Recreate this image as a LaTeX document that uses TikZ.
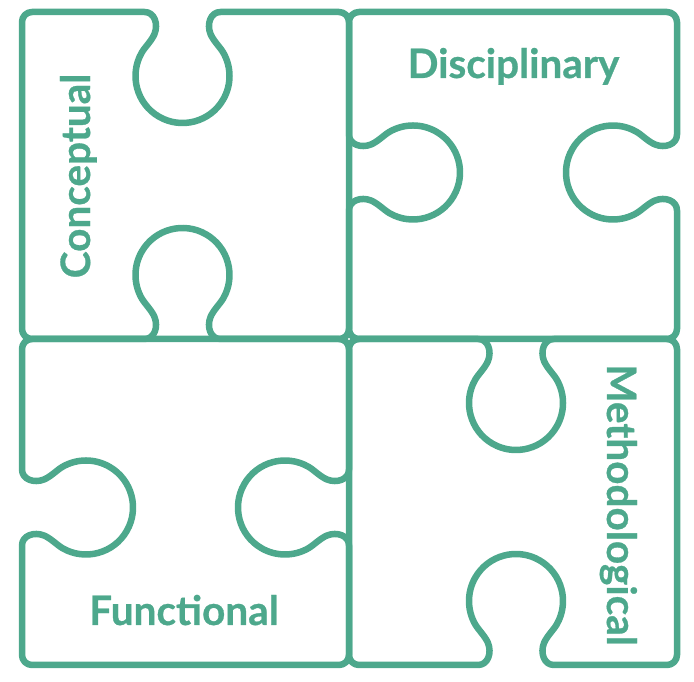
\documentclass[tikz,border=0pt]{standalone}
\usepackage{fontspec}
\setmainfont{Lato}[BoldFeatures={FakeBold=0.7}]
\definecolor{puzzle}{HTML}{4DA88C}
\tikzset{
  piece/.style={draw=puzzle, line width=6.5pt, rounded corners=10pt, line join=round},
  piecename/.style={text=puzzle, font=\bfseries\fontsize{40.5}{40}\selectfont, inner sep=0pt, anchor=base}
}

\begin{document}
\begin{tikzpicture}[x=1pt,y=1pt]
\useasboundingbox (0,0) rectangle (694,682);
\def\notch#1#2{{[shift={#1},rotate=#2,sharp corners]
  -- (-38,0) .. controls (-28,0) and (-24,-12) .. (-28,-22)
  .. controls (-31,-29) and (-37.7,-35.3) .. (-40.7,-40.5)
  arc[start angle=150,end angle=390,radius=47]
  .. controls (37.7,-35.3) and (31,-29) .. (28,-22)
  .. controls (24,-12) and (28,0) .. (38,0)}}
\draw[piece] (22,506) -- (22,670) \notch{(182.5,670)}{0} -- (349,670)
  -- (349,343) \notch{(182.5,343)}{180} -- (22,343) -- cycle;
\draw[piece] (513,670) -- (677,670) \notch{(677,509.5)}{-90} -- (677,343)
  -- (349,343) \notch{(349,509.5)}{90} -- (349,670) -- cycle;
\draw[piece] (184,343) -- (349,343) \notch{(349,174.5)}{-90} -- (349,17)
  -- (22,17) \notch{(22,174.5)}{90} -- (22,343) -- cycle;
\draw[piece] (349,180) -- (349,343) \notch{(516,343)}{0} -- (677,343)
  -- (677,17) \notch{(516,17)}{180} -- (349,17) -- cycle;
\node[piecename, rotate=90] (conceptual) at (90,506) {Conceptual};
\node[piecename] (disciplinary) at (513.5,604) {Disciplinary};
\node[piecename] (functional) at (184,57) {Functional};
\node[piecename, rotate=-90] (methodological) at (607,177) {Methodological};
\end{tikzpicture}
\end{document}
